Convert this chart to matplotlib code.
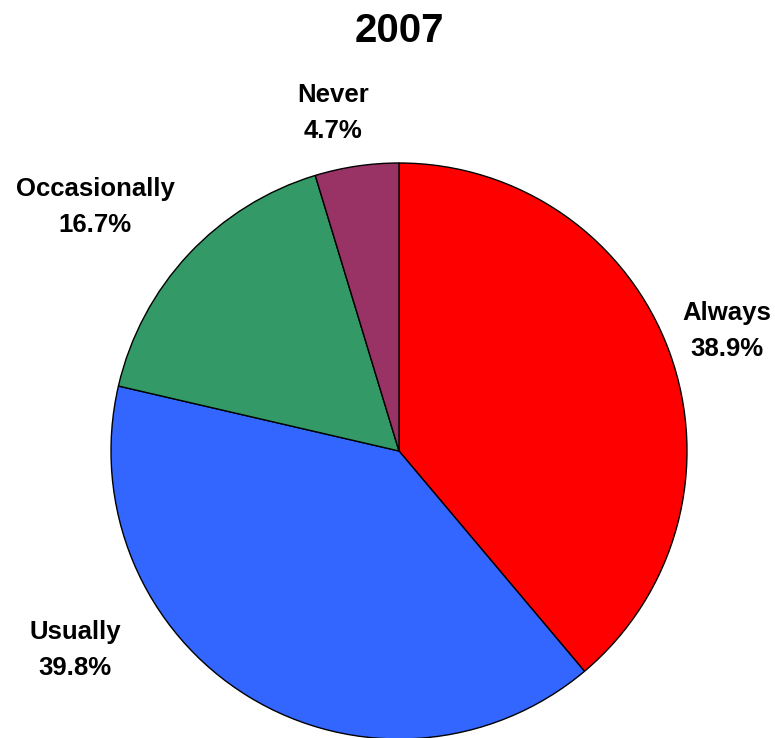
import matplotlib
matplotlib.use("Agg")
import matplotlib.pyplot as plt

title = "2007"
categories = ["Always", "Usually", "Occasionally", "Never"]
values = [38.9, 39.8, 16.7, 4.7]
colors = ["#FF0000", "#3366FF", "#339966", "#993366"]
label_pos = [(727, 331), (75, 650), (95, 207), (333, 113)]

plt.rcParams['font.family'] = ['Liberation Sans', 'DejaVu Sans']

fig = plt.figure(figsize=(7.75, 7.38), dpi=100)
ax = fig.add_axes([0, 0, 1, 1])

ax.pie(values, colors=colors, startangle=90, counterclock=False,
       center=(399, 738 - 451), radius=288, normalize=True,
       wedgeprops=dict(edgecolor='black', linewidth=1.0), frame=True)
ax.set_xlim(0, 775)
ax.set_ylim(0, 738)
ax.set_aspect('equal')
ax.axis('off')

for cat, v, (x, y) in zip(categories, values, label_pos):
    ax.text(x, 738 - y, f"{cat}\n{v:.1f}%", ha='center', va='center',
            fontsize=18.5, fontweight='bold', linespacing=1.6)

ax.text(399, 738 - 31, title, ha='center', va='center', fontsize=29, fontweight='bold')

fig.savefig("out.png", dpi=100)
